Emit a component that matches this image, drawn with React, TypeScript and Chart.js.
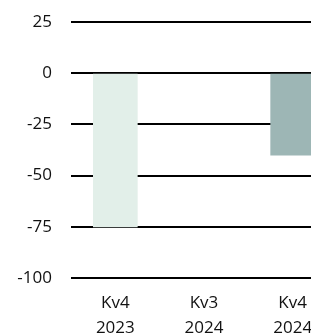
import React, { useEffect, useRef } from "react";
import { Chart, registerables } from "chart.js";

Chart.register(...registerables);

const categories: string[][] = [["Kv4", "2023"], ["Kv3", "2024"], ["Kv4", "2024"]];
const values: (number | null)[] = [-75, 0, -40];
const barColors: string[] = ["#e2efe9", "rgba(0,0,0,0)", "#9db6b5"];
const yTicks: number[] = [-100, -75, -50, -25, 0, 25];

export default function App() {
  const ref = useRef<HTMLCanvasElement | null>(null);
  useEffect(() => {
    if (!ref.current) return;
    const chart = new Chart(ref.current, {
      type: "bar",
      data: {
        labels: categories,
        datasets: [
          {
            data: values,
            backgroundColor: barColors,
            borderWidth: 0,
            barThickness: 44,
          },
        ],
      },
      options: {
        animation: false,
        responsive: false,
        devicePixelRatio: 1,
        layout: { padding: { top: 22, left: 0, right: 0, bottom: 0 } },
        plugins: { legend: { display: false }, tooltip: { enabled: false } },
        scales: {
          x: {
            grid: { display: false, drawTicks: false },
            border: { display: false },
            ticks: {
              padding: 13,
              color: "#111",
              font: { family: "'Open Sans'", size: 17, lineHeight: 25 / 17 },
              maxRotation: 0,
              autoSkip: false,
            },
            afterFit: (s: any) => {
              s.height = 58;
            },
          },
          y: {
            min: yTicks[0],
            max: yTicks[yTicks.length - 1],
            grid: { color: "#000", lineWidth: 2, drawTicks: false },
            border: { display: false },
            ticks: {
              stepSize: 25,
              padding: 19,
              color: "#111",
              font: { family: "'Open Sans'", size: 17 },
            },
            afterFit: (s: any) => {
              s.width = 71;
              s.paddingTop = 0;
              s.paddingBottom = 0;
            },
          },
        },
      },
    });
    return () => chart.destroy();
  }, []);
  return (
    <div
      style={{
        position: "fixed",
        left: 0,
        top: 0,
        width: 311,
        height: 336,
        overflow: "hidden",
        background: "#fff",
      }}
    >
      <canvas ref={ref} width={337} height={336} style={{ display: "block", width: 337, height: 336 }} />
    </div>
  );
}
